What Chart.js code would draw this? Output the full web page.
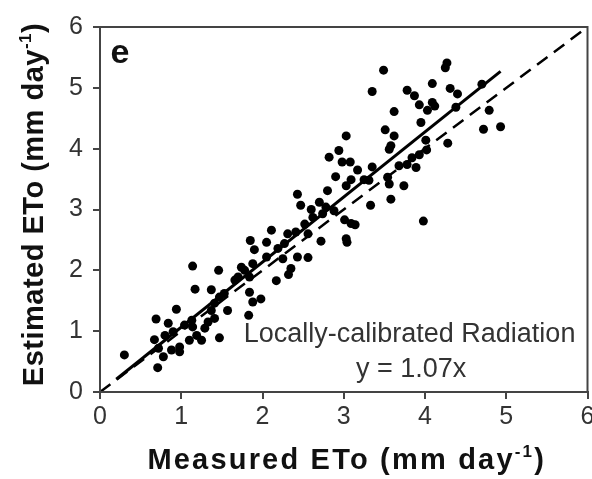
<!DOCTYPE html>
<html>
<head>
<meta charset="utf-8">
<script src="https://cdn.jsdelivr.net/npm/chart.js@4.4.0/dist/chart.umd.min.js"></script>
<style>
html, body { margin: 0; padding: 0; background: #fff; }
canvas { display: block; }
</style>
</head>
<body>
<canvas id="chart" width="592" height="479"></canvas>
<script>
// measured vs estimated ETo (mm/day)
const measured = [
    1.14, 1.46, 1.17, 1.37, 0.94, 0.69, 0.84, 1.47, 1.57, 0.30, 0.71, 0.67, 0.72, 0.78, 0.88, 0.98,
    0.98, 1.10, 1.19, 1.25, 1.29, 1.33, 1.41, 1.41, 1.47, 1.53, 1.37, 1.13, 1.04, 0.90, 0.80, 1.14,
    2.90, 3.03, 2.80, 2.43, 2.47, 2.60, 2.70, 2.78, 2.88, 3.01, 3.09, 3.03, 3.04, 2.72, 2.11, 2.31,
    2.56, 1.85, 2.05, 1.90, 2.19, 2.05, 2.25, 2.43, 2.56, 2.35, 2.32, 2.17, 1.74, 1.70, 1.84, 1.84,
    1.98, 2.41, 2.52, 2.62, 2.74, 2.27, 1.88, 1.78, 1.66, 1.88, 1.83,
    3.49, 4.25, 4.27, 3.35, 3.78, 3.87, 4.09, 4.31, 4.40, 3.93, 4.03, 4.09, 4.12, 3.62, 4.38, 3.95,
    3.51, 3.62, 3.58, 3.56, 3.03, 4.01, 4.28, 4.02, 3.93, 3.84, 3.89, 3.78, 3.68, 3.35, 3.17, 3.08,
    3.09, 3.25, 3.54, 3.56, 3.74, 4.70, 4.79, 4.72, 4.93, 3.58, 3.33, 3.14, 3.98, 2.94, 2.82, 2.98,
    3.31
]
const estimated = [
    2.07, 2.00, 1.69, 1.68, 1.36, 1.20, 1.13, 0.89, 1.34, 0.61, 0.40, 0.86, 0.72, 0.58, 0.69, 0.74,
    0.66, 0.85, 0.93, 0.85, 1.05, 1.15, 1.21, 1.46, 1.56, 1.62, 1.34, 1.18, 1.10, 0.99, 0.93, 1.07,
    3.54, 3.39, 3.31, 3.25, 3.07, 3.00, 3.12, 3.04, 2.98, 2.83, 2.77, 2.52, 2.46, 2.48, 2.66, 2.60,
    2.60, 2.49, 2.46, 2.34, 2.36, 2.22, 2.19, 2.22, 2.21, 2.03, 1.93, 1.83, 2.05, 1.89, 1.89, 1.64,
    1.53, 2.63, 2.76, 2.87, 2.93, 2.44, 2.11, 2.00, 1.84, 1.48, 1.26,
    5.29, 5.33, 5.41, 4.94, 4.96, 4.87, 5.07, 4.99, 4.90, 4.72, 4.63, 4.76, 4.70, 4.61, 4.68, 4.43,
    4.31, 4.21, 4.05, 3.99, 4.21, 4.14, 4.09, 3.98, 3.90, 3.85, 3.69, 3.74, 3.72, 3.70, 3.65, 3.78,
    3.49, 3.49, 3.53, 3.42, 3.39, 5.06, 4.63, 4.32, 4.36, 3.17, 3.07, 2.75, 2.81, 3.97, 3.86, 3.78,
    3.48
]
// fitted line (y = 1.07x) and 1:1 line end points
const fitX = [0.2, 4.93]
const fitY = [0.21, 5.27]
const oneX = [0, 6]
const oneY = [0, 6]
const axisTicks = [0, 1, 2, 3, 4, 5, 6]

const xTitle = ["Measured ETo (mm day", "-1", ")"]
const yTitle = ["Estimated ETo (mm day", "-1", ")"]
const panelLabel = "e"
const noteLines = ["Locally-calibrated Radiation", "y = 1.07x"]

const pts = measured.map((v, i) => ({x: v, y: estimated[i]}))
const toXY = (xs, ys) => xs.map((v, i) => ({x: v, y: ys[i]}))

// title with a raised "-1"
function drawSupTitle(ctx, parts, size, spacing) {
    ctx.font = "bold " + size + "px 'Liberation Sans', Arial, sans-serif"
    ctx.letterSpacing = spacing + "px"
    const w0 = ctx.measureText(parts[0]).width
    const w2 = ctx.measureText(parts[2]).width
    ctx.font = "bold " + Math.round(size * 0.58) + "px 'Liberation Sans', Arial, sans-serif"
    const w1 = ctx.measureText(parts[1]).width
    const total = w0 + w1 + w2
    let x = -total / 2
    ctx.fillText(parts[1], x + w0, -size * 0.42)
    ctx.font = "bold " + size + "px 'Liberation Sans', Arial, sans-serif"
    ctx.fillText(parts[0], x, 0)
    ctx.fillText(parts[2], x + w0 + w1, 0)
}

const overlay = {
    id: "overlay",
    afterDraw(chart) {
        const ctx = chart.ctx
        const a = chart.chartArea
        const sx = chart.scales.x
        const sy = chart.scales.y
        ctx.save()
        ctx.strokeStyle = "#444"
        ctx.lineWidth = 2
        ctx.strokeRect(a.left, a.top, a.right - a.left, a.bottom - a.top)

        ctx.fillStyle = "#111"
        ctx.textAlign = "left"
        ctx.textBaseline = "alphabetic"

        // x title
        ctx.save()
        ctx.translate((a.left + a.right) / 2 + 3, 469)
        drawSupTitle(ctx, xTitle, 29, 2.2)
        ctx.restore()

        // y title
        ctx.save()
        ctx.translate(43, (a.top + a.bottom) / 2 - 5)
        ctx.rotate(-Math.PI / 2)
        drawSupTitle(ctx, yTitle, 29, 0.5)
        ctx.restore()

        ctx.letterSpacing = "0px"
        ctx.font = "bold 34px 'Liberation Sans', Arial, sans-serif"
        ctx.fillText(panelLabel, sx.getPixelForValue(0.13), sy.getPixelForValue(5.41))

        ctx.fillStyle = "#333"
        ctx.textAlign = "center"
        ctx.font = "27px 'Liberation Sans', Arial, sans-serif"
        ctx.fillText(noteLines[0], sx.getPixelForValue(3.81), sy.getPixelForValue(0.82))
        ctx.fillText(noteLines[1], sx.getPixelForValue(3.83), sy.getPixelForValue(0.25))
        ctx.restore()
    }
}

function tightFit(w, h) {
    return function (scale) {
        if (w) scale.width = w
        if (h) scale.height = h
        scale.paddingLeft = 0
        scale.paddingRight = 0
        scale.paddingTop = 0
        scale.paddingBottom = 0
    }
}

const tickFont = {family: "'Liberation Sans', Arial, sans-serif", size: 25}

new Chart(document.getElementById("chart"), {
    type: "scatter",
    data: {
        datasets: [
            {
                label: "1:1",
                type: "line",
                data: toXY(oneX, oneY),
                borderColor: "#000",
                borderWidth: 2.5,
                borderDash: [13, 8],
                pointRadius: 0,
                fill: false
            },
            {
                label: "fit",
                type: "line",
                data: toXY(fitX, fitY),
                borderColor: "#000",
                borderWidth: 3,
                pointRadius: 0,
                fill: false
            },
            {
                label: "ETo",
                data: pts,
                backgroundColor: "#000",
                borderColor: "#000",
                pointRadius: 4.5,
                borderWidth: 0
            }
        ]
    },
    options: {
        responsive: false,
        animation: false,
        layout: {padding: {top: 27, right: 3, left: 0, bottom: 0}},
        plugins: {legend: {display: false}, tooltip: {enabled: false}},
        scales: {
            x: {
                type: "linear",
                min: 0,
                max: 6,
                afterFit: tightFit(0, 87),
                afterBuildTicks: (s) => { s.ticks = axisTicks.map((v) => ({value: v})) },
                border: {display: true, color: "#444", width: 2},
                grid: {drawOnChartArea: false, color: "#444", lineWidth: 2, tickLength: 7},
                ticks: {color: "#333", font: tickFont, padding: 3, maxRotation: 0}
            },
            y: {
                type: "linear",
                min: 0,
                max: 6,
                afterFit: tightFit(100, 0),
                afterBuildTicks: (s) => { s.ticks = axisTicks.map((v) => ({value: v})) },
                border: {display: true, color: "#444", width: 2},
                grid: {drawOnChartArea: false, color: "#444", lineWidth: 2, tickLength: 7},
                ticks: {color: "#333", font: tickFont, padding: 10}
            }
        }
    },
    plugins: [overlay]
})
</script>
</body>
</html>
